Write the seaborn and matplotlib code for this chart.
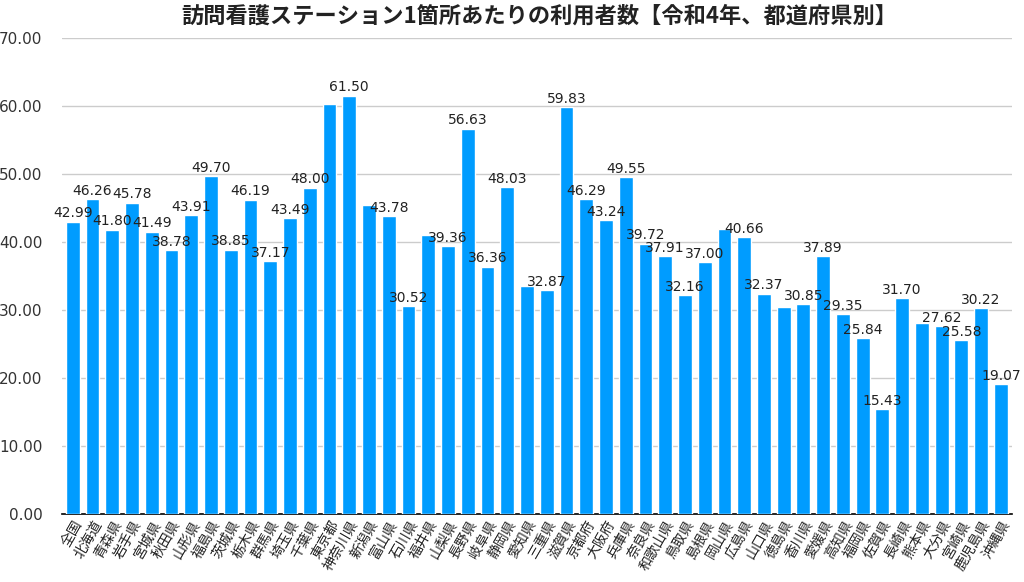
import matplotlib
matplotlib.use("Agg")
import matplotlib.pyplot as plt
import seaborn as sns
import pandas as pd

prefectures = ["全国", "北海道", "青森県", "岩手県", "宮城県", "秋田県", "山形県", "福島県",
               "茨城県", "栃木県", "群馬県", "埼玉県", "千葉県", "東京都", "神奈川県", "新潟県",
               "富山県", "石川県", "福井県", "山梨県", "長野県", "岐阜県", "静岡県", "愛知県",
               "三重県", "滋賀県", "京都府", "大阪府", "兵庫県", "奈良県", "和歌山県", "鳥取県",
               "島根県", "岡山県", "広島県", "山口県", "徳島県", "香川県", "愛媛県", "高知県",
               "福岡県", "佐賀県", "長崎県", "熊本県", "大分県", "宮崎県", "鹿児島県", "沖縄県"]
users_per_station = [42.99, 46.26, 41.80, 45.78, 41.49, 38.78, 43.91, 49.70,
                     38.85, 46.19, 37.17, 43.49, 48.00, 60.30, 61.50, 45.40,
                     43.78, 30.52, 41.00, 39.36, 56.63, 36.36, 48.03, 33.60,
                     32.87, 59.83, 46.29, 43.24, 49.55, 39.72, 37.91, 32.16,
                     37.00, 41.90, 40.66, 32.37, 30.40, 30.85, 37.89, 29.35,
                     25.84, 15.43, 31.70, 28.10, 27.62, 25.58, 30.22, 19.07]
# labels hidden in the original chart (overlap suppression)
label_shown = [True, True, True, True, True, True, True, True,
               True, True, True, True, True, False, True, False,
               True, True, False, True, True, True, True, False,
               True, True, True, True, True, True, True, True,
               True, False, True, True, False, True, True, True,
               True, True, True, False, True, True, True, True]
y_ticks = [0, 10, 20, 30, 40, 50, 60, 70]
title = "訪問看護ステーション1箇所あたりの利用者数【令和4年、都道府県別】"

sns.set_theme(style="white")
plt.rcParams['font.family'] = ['Noto Sans CJK JP', 'DejaVu Sans']

df = pd.DataFrame({"pref": prefectures, "value": users_per_station})

fig = plt.figure(figsize=(10.24, 5.82), dpi=100)
ax = fig.add_axes([0.0605, 0.1168, 0.9275, 0.818])

sns.barplot(data=df, x="pref", y="value", color="#009CFF", saturation=1,
            width=0.7, ax=ax, zorder=3)

labels = [f"{v:.2f}" if s else "" for v, s in zip(users_per_station, label_shown)]
ax.bar_label(ax.containers[0], labels=labels, padding=1, fontsize=10, color="#222222",
             family=["DejaVu Sans"])

ax.set_ylim(0, 70)
ax.set_yticks(y_ticks)
ax.set_yticklabels([f"{t:.2f}" for t in y_ticks], fontsize=11, color="#333333",
                   family=["DejaVu Sans"])
ax.set_xlim(-0.55, len(prefectures) - 0.45)
ax.yaxis.grid(True, color="#cccccc", linewidth=1, zorder=0)
ax.set_axisbelow(True)
for side in ["top", "right", "left"]:
    ax.spines[side].set_visible(False)
ax.spines["bottom"].set_color("black")
ax.spines["bottom"].set_linewidth(1.2)
ax.tick_params(axis="y", length=0, pad=14)
ax.tick_params(axis="x", length=0, pad=3)
ax.set_xticks(range(len(prefectures)))
ax.set_xticklabels(prefectures, rotation=60, ha="right", rotation_mode="anchor",
                   fontsize=10, color="#222222")
ax.set_xlabel("")
ax.set_ylabel("")

fig.text(0.527, 0.972, title, ha="center", va="center", fontsize=16, fontweight="bold",
         color="#222222")

fig.savefig("out.png", dpi=100)
